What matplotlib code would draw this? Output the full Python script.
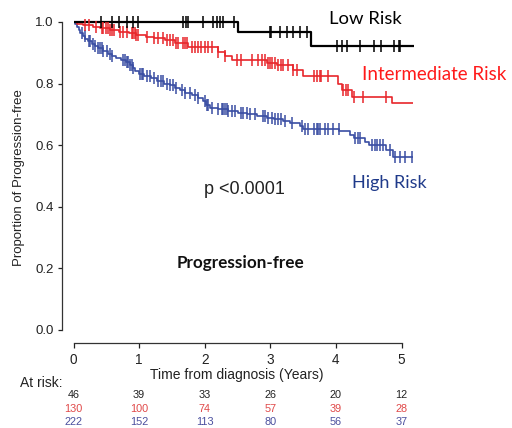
import numpy as np
import matplotlib
matplotlib.use("Agg")
import matplotlib.pyplot as plt

# ---------------- data ----------------
years = [0, 1, 2, 3, 4, 5]
ytick_vals = [0.0, 0.2, 0.4, 0.6, 0.8, 1.0]

groups = ["Low Risk", "Intermediate Risk", "High Risk"]

# Low risk KM step function
low_times = [0.0, 2.51, 3.62, 5.19]
low_surv = [1.0, 0.966, 0.922, 0.922]
low_censor = [0.42, 0.58, 0.70, 0.81, 0.91, 0.99, 1.67, 1.71, 1.75, 1.98, 2.13,
              2.18, 2.23, 2.28, 2.44, 2.99, 3.01, 3.15, 3.25, 3.35, 3.46, 3.56,
              4.02, 4.09, 4.17, 4.37, 4.58, 4.68, 4.88, 4.96, 4.98]

# Intermediate risk KM step function
int_times = [0.0, 0.05, 0.15, 0.30, 0.40, 0.55, 0.70, 0.85, 0.96, 1.10, 1.22,
             1.40, 1.55, 1.75, 2.20, 2.31, 2.41, 2.95, 3.10, 3.35, 3.50, 4.03,
             4.10, 4.25, 4.85, 5.18]
int_surv = [1.0, 0.995, 0.990, 0.985, 0.980, 0.975, 0.969, 0.963, 0.958, 0.952,
            0.947, 0.940, 0.933, 0.920, 0.904, 0.890, 0.877, 0.866, 0.860, 0.844,
            0.825, 0.800, 0.780, 0.757, 0.736, 0.736]
int_censor = [0.175, 0.23, 0.35, 0.43, 0.45, 0.50, 0.53, 0.56, 0.58, 0.61, 0.71,
              0.76, 0.81, 0.89, 0.91, 0.94, 0.96, 0.99, 1.12, 1.22, 1.29, 1.37,
              1.42, 1.47, 1.52, 1.57, 1.60, 1.67, 1.70, 1.73, 1.80, 1.85, 1.90,
              1.95, 2.00, 2.05, 2.11, 2.21, 2.31, 2.49, 2.56, 2.72, 2.82, 2.87,
              2.92, 2.97, 3.00, 3.02, 3.07, 3.12, 3.17, 3.20, 3.27, 3.35, 3.40,
              3.66, 3.71, 3.75, 3.78, 3.88, 4.11, 4.16, 4.19, 4.27, 4.42, 4.77]

# High risk KM step function
high_times = [0.0, 0.02, 0.05, 0.08, 0.10, 0.14, 0.18, 0.22, 0.28, 0.33, 0.38,
              0.45, 0.52, 0.58, 0.65, 0.72, 0.80, 0.86, 0.90, 0.94, 1.00, 1.08,
              1.18, 1.28, 1.38, 1.47, 1.55, 1.62, 1.70, 1.80, 1.90, 1.97, 2.02,
              2.08, 2.20, 2.35, 2.50, 2.65, 2.80, 2.95, 3.05, 3.20, 3.30, 3.45,
              3.50, 4.05, 4.22, 4.27, 4.45, 4.50, 4.77, 4.87, 5.18]
high_surv = [1.0, 0.995, 0.985, 0.975, 0.963, 0.955, 0.945, 0.937, 0.930, 0.922,
             0.915, 0.905, 0.897, 0.889, 0.882, 0.876, 0.870, 0.860, 0.850, 0.840,
             0.832, 0.825, 0.818, 0.810, 0.800, 0.795, 0.787, 0.778, 0.770, 0.762,
             0.752, 0.742, 0.730, 0.722, 0.716, 0.711, 0.706, 0.700, 0.695, 0.689,
             0.684, 0.678, 0.671, 0.662, 0.654, 0.645, 0.634, 0.622, 0.611, 0.600,
             0.584, 0.563, 0.563]
high_censor = [0.125, 0.175, 0.23, 0.25, 0.30, 0.33, 0.38, 0.40, 0.43, 0.45, 0.51,
               0.56, 0.58, 0.76, 0.785, 0.81, 0.835, 0.86, 0.89, 0.91, 1.01, 1.04,
               1.06, 1.12, 1.17, 1.22, 1.29, 1.34, 1.37, 1.42, 1.47, 1.52, 1.57,
               1.65, 1.70, 1.78, 1.85, 1.90, 2.00, 2.03, 2.05, 2.11, 2.21, 2.26,
               2.28, 2.31, 2.34, 2.36, 2.41, 2.46, 2.56, 2.59, 2.64, 2.69, 2.77,
               2.89, 2.92, 2.97, 3.02, 3.07, 3.12, 3.17, 3.22, 3.33, 3.48, 3.53,
               3.58, 3.66, 3.71, 3.73, 3.76, 3.83, 3.88, 3.96, 4.04, 4.29, 4.34,
               4.36, 4.55, 4.60, 4.62, 4.67, 4.72, 4.82, 4.90, 4.98, 5.05, 5.16]

at_risk_low = [46, 39, 33, 26, 20, 12]
at_risk_int = [130, 100, 74, 57, 39, 28]
at_risk_high = [222, 152, 113, 80, 56, 37]

# ---------------- style ----------------
W, H = 512, 428
DPI = 100
c_low = "#000000"
c_int = "#e8262b"
c_high = "#3a4ea3"
c_int_txt = "#ff1a1a"
c_high_txt = "#1f3a8a"
c_int_num = "#e04848"
c_high_num = "#4a4f9e"

arial = ["Liberation Sans", "DejaVu Sans"]
calib = ["Lato", "DejaVu Sans"]

fig = plt.figure(figsize=(W / DPI, H / DPI), dpi=DPI)

# axes positioned in pixels: x=0 at 73.5px, 1 year = 65.6px; y=0 at 330px, 1.0 at 22px
x0_px, px_year = 73.5, 65.6
y0_px, px_unit = 330.0, 308.0
xmax, ymax = 5.3, 1.02
ax = fig.add_axes([x0_px / W, (H - y0_px) / H, xmax * px_year / W, ymax * px_unit / H])
ax.set_xlim(0, xmax)
ax.set_ylim(0, ymax)


def km(ax, times, surv, censor, color, lw, ms):
    ax.step(times, surv, where="post", color=color, lw=lw, solid_capstyle="butt",
            zorder=3)
    t = np.asarray(times)
    s = np.asarray(surv)
    idx = np.searchsorted(t, censor, side="right") - 1
    ax.plot(censor, s[idx], linestyle="none", marker="|", color=color,
            markersize=ms, markeredgewidth=1.1, zorder=4)


km(ax, high_times, high_surv, high_censor, c_high, 1.2, 8)
km(ax, int_times, int_surv, int_censor, c_int, 1.2, 8)
km(ax, low_times, low_surv, low_censor, c_low, 1.6, 8)

for side in ["top", "right"]:
    ax.spines[side].set_visible(False)
ax.spines["left"].set_position(("outward", 12 * 72 / DPI))
ax.spines["bottom"].set_position(("outward", 12.5 * 72 / DPI))
ax.spines["left"].set_bounds(0, 1)
ax.spines["bottom"].set_bounds(0, 5)
for side in ["left", "bottom"]:
    ax.spines[side].set_linewidth(0.9)
    ax.spines[side].set_color("#333333")

ax.set_yticks(ytick_vals)
ax.set_yticklabels([f"{v:.1f}" for v in ytick_vals], fontfamily=arial, fontsize=9.5)
ax.set_xticks(years)
ax.set_xticklabels([str(v) for v in years], fontfamily=arial, fontsize=9.8)
ax.tick_params(axis="y", length=3, width=0.9, pad=2.5, colors="#222222")
ax.tick_params(axis="x", length=3.5, width=0.9, pad=4.2, colors="#222222")

ax.set_xlabel("Time from diagnosis (Years)", fontfamily=arial, fontsize=10,
              color="#222222")
ax.xaxis.set_label_coords((237 - x0_px) / (xmax * px_year),
                          -(367.5 - y0_px) / (ymax * px_unit))
ax.set_ylabel("Proportion of Progression-free", fontfamily=arial, fontsize=9.5,
              color="#222222")
ax.yaxis.set_label_coords(-(x0_px - 25) / (xmax * px_year),
                          (y0_px - 178) / (ymax * px_unit))


def ftext(x, y, s, **kw):
    fig.text(x / W, 1 - y / H, s, **kw)


# group labels
ftext(365, 19.5, groups[0], fontfamily=calib, fontsize=13.3, color=c_low,
      ha="center", va="center")
ftext(434, 75, groups[1], fontfamily=calib, fontsize=13.5, color=c_int_txt,
      ha="center", va="center")
ftext(389, 183, groups[2], fontfamily=calib, fontsize=13, color=c_high_txt,
      ha="center", va="center")

ftext(244, 190, "p <0.0001", fontfamily=arial, fontsize=13, color="#222222",
      ha="center", va="center")
ftext(240, 263, "Progression-free", fontfamily=calib, fontsize=12.3,
      fontweight="bold", color="#111111", ha="center", va="center")

# at risk table
ftext(20, 383, "At risk:", fontfamily=arial, fontsize=10, color="#222222",
      ha="left", va="center")
rows = [(at_risk_low, "#222222", 395), (at_risk_int, c_int_num, 408.5),
        (at_risk_high, c_high_num, 422)]
for vals, col, ypx in rows:
    for yr, v in zip(years, vals):
        xpx = x0_px + yr * px_year
        ftext(xpx, ypx, str(v), fontfamily=arial, fontsize=7.8, color=col,
              ha="center", va="center")

fig.savefig("out.png", dpi=DPI)
